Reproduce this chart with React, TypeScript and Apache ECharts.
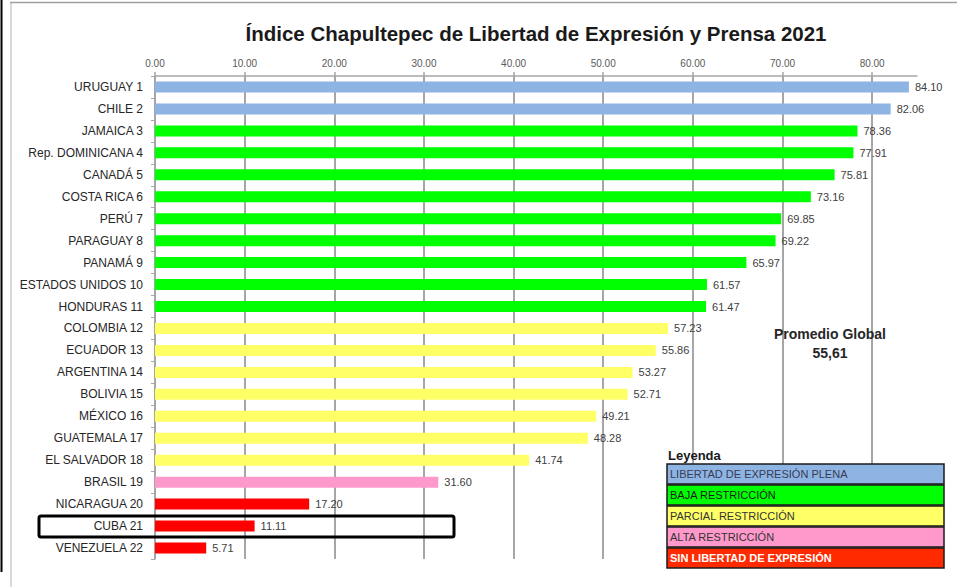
import React, { useEffect, useRef } from "react";
import * as echarts from "echarts";

const TITLE = "Índice Chapultepec de Libertad de Expresión y Prensa 2021";

const countries = [
  "URUGUAY 1", "CHILE 2", "JAMAICA 3", "Rep. DOMINICANA 4", "CANADÁ 5", "COSTA RICA 6",
  "PERÚ 7", "PARAGUAY 8", "PANAMÁ 9", "ESTADOS UNIDOS 10", "HONDURAS 11", "COLOMBIA 12",
  "ECUADOR 13", "ARGENTINA 14", "BOLIVIA 15", "MÉXICO 16", "GUATEMALA 17", "EL SALVADOR 18",
  "BRASIL 19", "NICARAGUA 20", "CUBA 21", "VENEZUELA 22",
];

const scores = [
  84.1, 82.06, 78.36, 77.91, 75.81, 73.16, 69.85, 69.22, 65.97, 61.57, 61.47, 57.23,
  55.86, 53.27, 52.71, 49.21, 48.28, 41.74, 31.6, 17.2, 11.11, 5.71,
];

// index into legend categories
const groups = [0, 0, 1, 1, 1, 1, 1, 1, 1, 1, 1, 2, 2, 2, 2, 2, 2, 2, 3, 4, 4, 4];

const legendNames = [
  "LIBERTAD DE EXPRESIÓN PLENA",
  "BAJA RESTRICCIÓN",
  "PARCIAL RESTRICCIÓN",
  "ALTA RESTRICCIÓN",
  "SIN LIBERTAD DE EXPRESIÓN",
];
const barColors = ["#8DB4E2", "#00FF00", "#FFFF66", "#FF99CC", "#FF0000"];
const legendColors = ["#8DB4E2", "#00FF00", "#FFFF66", "#FF99CC", "#FF2A00"];
const legendTextColors = ["#3A3A55", "#1A1A1A", "#333333", "#333333", "#FFFFFF"];

const tickValues = [0, 10, 20, 30, 40, 50, 60, 70, 80];
const averageLabel = "Promedio Global\n55,61";

const FONT = "'Liberation Sans', Arial, sans-serif";

export default function App() {
  const ref = useRef<HTMLDivElement>(null);

  useEffect(() => {
    if (!ref.current) return;
    const chart = echarts.init(ref.current, null, { renderer: "svg" });

    const legendTop = 463;
    const rowH = 21;
    const legendGraphics: any[] = [];
    legendNames.forEach((name, i) => {
      legendGraphics.push({
        type: "rect",
        z: 100,
        shape: { x: 667, y: legendTop + i * rowH + 1, width: 277, height: rowH - 1 },
        style: { fill: legendColors[i], stroke: "#1a1a1a", lineWidth: 1.5 },
      });
      legendGraphics.push({
        type: "text",
        z: 101,
        x: 670,
        y: legendTop + i * rowH + 1 + (rowH - 1) / 2,
        style: {
          text: name,
          fill: legendTextColors[i],
          font: `${i === 4 ? "bold " : ""}11px ${FONT}`,
          verticalAlign: "middle",
          textAlign: "left",
        },
      });
    });

    chart.setOption({
      animation: false,
      backgroundColor: "#ffffff",
      grid: { left: 155, top: 76, right: 40, bottom: 28, containLabel: false },
      xAxis: {
        type: "value",
        position: "top",
        min: 0,
        max: 85,
        interval: 10,
        axisLine: { show: true, lineStyle: { color: "#A6A6A6", width: 1.5 } },
        axisTick: { show: true, length: 4, lineStyle: { color: "#A6A6A6", width: 1.5 }, customValues: tickValues },
        axisLabel: {
          customValues: tickValues,
          formatter: (v: number) => v.toFixed(2),
          color: "#595959",
          fontSize: 10,
          fontFamily: FONT,
          margin: 8,
        },
        splitLine: { show: true, lineStyle: { color: "#A6A6A6", width: 2 } },
      },
      yAxis: {
        type: "category",
        inverse: true,
        data: countries,
        axisLine: { show: true, lineStyle: { color: "#A6A6A6", width: 1.5 } },
        axisTick: { show: true, length: 4, lineStyle: { color: "#A6A6A6" } },
        axisLabel: { color: "#262626", fontSize: 12, fontFamily: FONT, margin: 12 },
      },
      series: [
        {
          type: "bar",
          barWidth: 11,
          data: scores.map((v, i) => ({ value: v, itemStyle: { color: barColors[groups[i]] } })),
          label: {
            show: true,
            position: "right",
            distance: 6,
            formatter: (p: any) => Number(p.value).toFixed(2),
            color: "#404040",
            fontSize: 11,
            fontFamily: FONT,
          },
        },
      ],
      graphic: [
        { type: "line", z: 100, shape: { x1: 1.5, y1: 0, x2: 1.5, y2: 572 }, style: { stroke: "#000", lineWidth: 2 } },
        { type: "line", z: 100, shape: { x1: 11, y1: 3, x2: 11, y2: 587 }, style: { stroke: "#D9D9D9", lineWidth: 2 } },
        { type: "line", z: 100, shape: { x1: 10, y1: 2.5, x2: 957, y2: 2.5 }, style: { stroke: "#A0A0A0", lineWidth: 1.5 } },
        {
          type: "text",
          z: 100,
          x: 536,
          y: 33,
          style: {
            text: TITLE,
            font: `bold 20.5px ${FONT}`,
            fill: "#1a1a1a",
            textAlign: "center",
            verticalAlign: "middle",
          },
        },
        {
          type: "text",
          z: 100,
          x: 830,
          y: 343,
          style: {
            text: averageLabel,
            font: `bold 14px ${FONT}`,
            fill: "#262626",
            textAlign: "center",
            verticalAlign: "middle",
            lineHeight: 19,
          },
        },
        {
          type: "text",
          z: 100,
          x: 668,
          y: 455,
          style: { text: "Leyenda", font: `bold 13px ${FONT}`, fill: "#1a1a1a", verticalAlign: "middle" },
        },
        ...legendGraphics,
        {
          type: "rect",
          z: 100,
          shape: { x: 39, y: 516, width: 415, height: 21, r: 2 },
          style: { fill: "none", stroke: "#000", lineWidth: 3 },
        },
      ],
    });

    return () => chart.dispose();
  }, []);

  return (
    <div
      ref={ref}
      style={{ position: "fixed", left: 0, top: 0, width: 957, height: 587 }}
    />
  );
}
